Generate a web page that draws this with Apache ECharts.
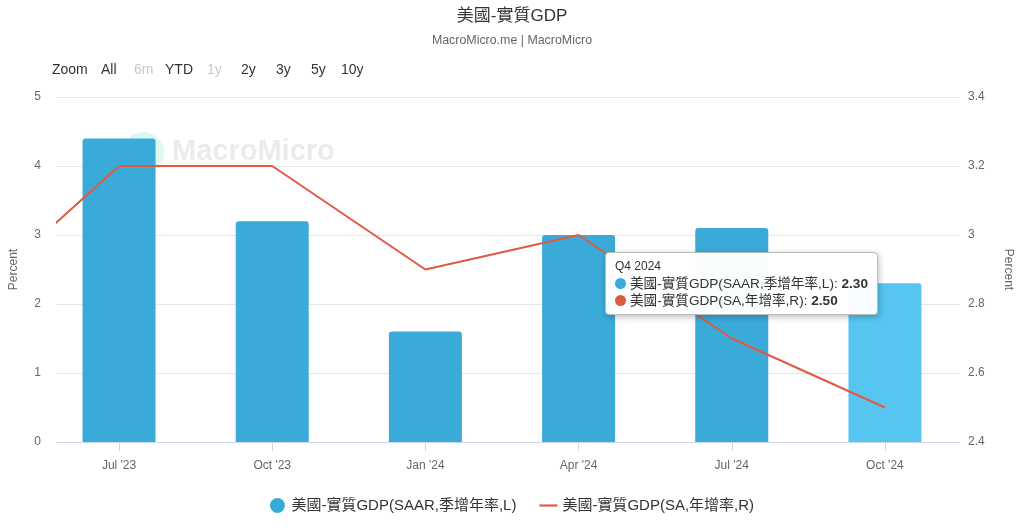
<!DOCTYPE html>
<html>
<head>
<meta charset="utf-8">
<title>美國-實質GDP</title>
<script src="https://cdn.jsdelivr.net/npm/echarts@6/dist/echarts.min.js"></script>
<style>
  html, body { margin: 0; padding: 0; background: #fff; }
  #chart { width: 1024px; height: 530px; }
</style>
</head>
<body>
<div id="chart"></div>
<script>
// quarters shown on the x axis (index 0..5), line also has one point before (index -1)
const quarters = ["Jul '23", "Oct '23", "Jan '24", "Apr '24", "Jul '24", "Oct '24"]
const tipLabels = ["Q3 2023", "Q4 2023", "Q1 2024", "Q2 2024", "Q3 2024", "Q4 2024"]
const saarValues = [4.4, 3.2, 1.6, 3.0, 3.1, 2.3]        // 季增年率, left axis
const yoyPrevValue = 2.8                                  // Apr '23, off the left edge
const yoyValues = [3.2, 3.2, 2.9, 3.0, 2.7, 2.5]          // 年增率, right axis
const xTicks = [0, 1, 2, 3, 4, 5]

const nameBar = '美國-實質GDP(SAAR,季增年率,L)'
const nameLine = '美國-實質GDP(SA,年增率,R)'
const font = "'Liberation Sans', 'Noto Sans CJK TC', sans-serif"

const chart = echarts.init(document.getElementById('chart'))

// zoom buttons row
const zoomBtns = [
    { t: 'Zoom', x: 52, c: '#333' },
    { t: 'All', x: 101, c: '#333' },
    { t: '6m', x: 134, c: '#c8c8c8' },
    { t: 'YTD', x: 165, c: '#333' },
    { t: '1y', x: 207, c: '#c8c8c8' },
    { t: '2y', x: 241, c: '#333' },
    { t: '3y', x: 276, c: '#333' },
    { t: '5y', x: 311, c: '#333' },
    { t: '10y', x: 341, c: '#333' }
]

const option = {
    animation: false,
    textStyle: { fontFamily: font },
    title: {
        text: '美國-實質GDP',
        subtext: 'MacroMicro.me | MacroMicro',
        left: 'center',
        top: 3,
        itemGap: 9,
        textStyle: { fontSize: 17, fontWeight: 'normal', color: '#333', fontFamily: font },
        subtextStyle: { fontSize: 12.4, color: '#666', fontFamily: font }
    },
    graphic: [
        ...zoomBtns.map(b => ({
            type: 'text', left: b.x, top: 63,
            style: { text: b.t, fill: b.c, fontSize: 14, fontFamily: font }
        })),
        // watermark
        {
            type: 'circle', shape: { cx: 143, cy: 153, r: 21 },
            style: { fill: 'rgba(80, 220, 200, 0.2)' }, z: 0
        },
        {
            type: 'text', left: 172, top: 137, z: 0,
            style: { text: 'MacroMicro', fill: 'rgba(205, 205, 205, 0.4)', fontSize: 29, fontWeight: 'bold', fontFamily: font }
        }
    ],
    grid: { left: 52, right: 64, top: 97, bottom: 88 },
    tooltip: {
        trigger: 'item',
        triggerOn: 'none',
        alwaysShowContent: true,
        position: [605, 252],
        backgroundColor: 'rgba(255,255,255,0.97)',
        borderColor: '#bbb',
        borderWidth: 1,
        padding: [5, 9, 5, 9],
        extraCssText: 'border-radius:4px; box-shadow: 1px 2px 6px rgba(0,0,0,0.25);',
        formatter: p => {
            const i = p.dataIndex
            const dot = c => `<span style="display:inline-block;width:11px;height:11px;border-radius:6px;background:${c};margin-right:4px;vertical-align:-1px;"></span>`
            return `<div style="font-family:${font};color:#333;line-height:17px;">` +
                `<div style="font-size:12px;">${tipLabels[i]}</div>` +
                `<div style="font-size:13.6px;">${dot('#3aabd8')}${nameBar}: <b>${saarValues[i].toFixed(2)}</b></div>` +
                `<div style="font-size:13.6px;">${dot('#e05a40')}${nameLine}: <b>${yoyValues[i].toFixed(2)}</b></div>` +
                `</div>`
        }
    },
    legend: {
        bottom: 12,
        left: 'center',
        itemGap: 23,
        itemWidth: 18,
        itemHeight: 15,
        textStyle: { fontSize: 15, color: '#333', fontFamily: font },
        data: [
            { name: nameBar, icon: 'circle' },
            { name: nameLine, icon: 'path://M0,0 L20,0 L20,2.4 L0,2.4 Z' }
        ]
    },
    xAxis: {
        type: 'value',
        min: -0.405,
        max: 5.49,
        axisLine: { show: true, onZero: false, lineStyle: { color: '#ccd6eb' } },
        axisTick: { show: true, length: 9, customValues: xTicks, lineStyle: { color: '#ccd6eb' } },
        axisLabel: {
            customValues: xTicks,
            formatter: v => quarters[Math.round(v)],
            color: '#666', fontSize: 12, margin: 18
        },
        splitLine: { show: false }
    },
    yAxis: [
        {
            type: 'value', min: 0, max: 5, interval: 1,
            name: 'Percent', nameLocation: 'middle', nameRotate: 90, nameGap: 37,
            nameTextStyle: { color: '#666', fontSize: 12 },
            axisLine: { show: false },
            axisTick: { show: false },
            axisLabel: { color: '#666', fontSize: 12, margin: 16 },
            splitLine: { lineStyle: { color: '#e6e6e6' } }
        },
        {
            type: 'value', min: 2.4, max: 3.4, interval: 0.2,
            name: 'Percent', nameLocation: 'middle', nameRotate: -90, nameGap: 42,
            nameTextStyle: { color: '#666', fontSize: 12 },
            axisLine: { show: false },
            axisTick: { show: false },
            axisLabel: { color: '#666', fontSize: 12, margin: 8, formatter: v => String(+v.toFixed(1)) },
            splitLine: { show: false }
        }
    ],
    series: [
        {
            name: nameBar,
            type: 'bar',
            barWidth: 73,
            data: saarValues.map((v, i) => [i, v]),
            itemStyle: { color: '#3aabd8', borderRadius: [3, 3, 0, 0] },
            emphasis: { itemStyle: { color: '#56c6f0' } },
            z: 2
        },
        {
            name: nameLine,
            type: 'line',
            yAxisIndex: 1,
            showSymbol: false,
            symbol: 'none',
            clip: true,
            data: [[-1, yoyPrevValue]].concat(yoyValues.map((v, i) => [i, v])),
            lineStyle: { color: '#e05a40', width: 2 },
            itemStyle: { color: '#e05a40' },
            z: 3
        }
    ]
}

chart.setOption(option)
chart.dispatchAction({ type: 'highlight', seriesIndex: 0, dataIndex: 5 })
chart.dispatchAction({ type: 'showTip', seriesIndex: 0, dataIndex: 5 })
</script>
</body>
</html>
